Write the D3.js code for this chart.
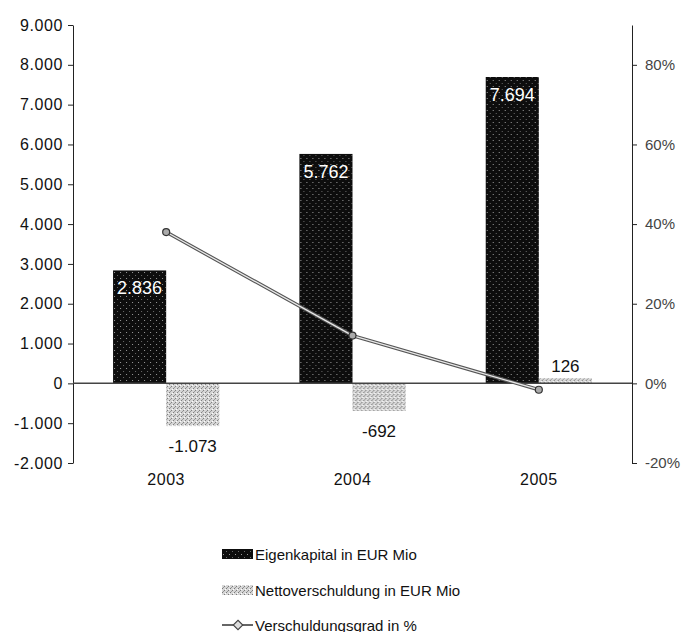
<!DOCTYPE html>
<html>
<head>
<meta charset="utf-8">
<script src="https://cdn.jsdelivr.net/npm/d3@7"></script>
<style>
  html, body { margin: 0; padding: 0; background: #fff; }
  svg { display: block; font-family: "Liberation Sans", Arial, sans-serif; }
</style>
</head>
<body>
<svg id="chart" width="683" height="632"></svg>
<script>
// Kennzahlen 2003–2005
const years = ["2003", "2004", "2005"];
const eigenkapital = [2836, 5762, 7694];          // EUR Mio
const nettoverschuldung = [-1073, -692, 126];     // EUR Mio
const verschuldungsgrad = [38, 12, -1.6];         // in %
const leftTicks = [-2000, -1000, 0, 1000, 2000, 3000, 4000, 5000, 6000, 7000, 8000, 9000];
const rightTicks = [-20, 0, 20, 40, 60, 80];
const legendLabels = ["Eigenkapital in EUR Mio", "Nettoverschuldung in EUR Mio", "Verschuldungsgrad in %"];

const de = d3.formatLocale({ decimal: ",", thousands: ".", grouping: [3], currency: ["", " €"], minus: "-" });
const fmt = de.format(",d");

const svg = d3.select("#chart");
const plotLeft = 73, plotRight = 632, plotTop = 25, plotBottom = 463;

// textures for the two bar series
const defs = svg.append("defs");
const pDark = defs.append("pattern").attr("id", "texDark")
  .attr("width", 6).attr("height", 6).attr("patternUnits", "userSpaceOnUse");
pDark.append("rect").attr("width", 6).attr("height", 6).attr("fill", "#0d0d0d");
pDark.append("rect").attr("x", 1).attr("y", 2).attr("width", 1).attr("height", 1).attr("fill", "#9a9a9a");
pDark.append("rect").attr("x", 4).attr("y", 5).attr("width", 1).attr("height", 1).attr("fill", "#6a6a6a");

const pLight = defs.append("pattern").attr("id", "texLight")
  .attr("width", 4).attr("height", 4).attr("patternUnits", "userSpaceOnUse");
pLight.append("rect").attr("width", 4).attr("height", 4).attr("fill", "#d6d6d6");
pLight.append("rect").attr("x", 0).attr("y", 0).attr("width", 1).attr("height", 1).attr("fill", "#7a7a7a");
pLight.append("rect").attr("x", 2).attr("y", 2).attr("width", 1).attr("height", 1).attr("fill", "#7a7a7a");
pLight.append("rect").attr("x", 3).attr("y", 1).attr("width", 1).attr("height", 1).attr("fill", "#ffffff");
pLight.append("rect").attr("x", 1).attr("y", 3).attr("width", 1).attr("height", 1).attr("fill", "#999");

// scales
const x0 = d3.scaleBand().domain(years).range([plotLeft, plotRight]).paddingInner(0.43).paddingOuter(0.215);
const x1 = d3.scaleBand().domain(["ek", "nv"]).range([0, x0.bandwidth()]);
const y = d3.scaleLinear().domain([-2000, 9000]).range([plotBottom, plotTop]);
const yR = d3.scaleLinear().domain([-20, 90]).range([plotBottom, plotTop]);

// left axis
const gL = svg.append("g").attr("transform", `translate(${plotLeft},0)`)
  .call(d3.axisLeft(y).tickValues(leftTicks).tickFormat(fmt).tickSize(5).tickSizeOuter(0).tickPadding(5));
gL.selectAll("path, line").attr("stroke", "#222");
gL.selectAll("text").attr("font-size", 16).attr("fill", "#111").attr("letter-spacing", 0.6)
  .attr("font-family", "Liberation Sans, Arial, sans-serif");

// right axis
const gR = svg.append("g").attr("transform", `translate(${plotRight},0)`)
  .call(d3.axisRight(yR).tickValues(rightTicks).tickFormat(d => d + "%").tickSize(5).tickSizeOuter(0).tickPadding(8));
gR.selectAll("path, line").attr("stroke", "#222");
gR.selectAll("text").attr("font-size", 15).attr("fill", "#444")
  .attr("font-family", "Liberation Sans, Arial, sans-serif");

// bars
const groups = svg.append("g").selectAll("g").data(years).join("g")
  .attr("transform", d => `translate(${x0(d)},0)`);

groups.append("rect")
  .attr("x", x1("ek")).attr("width", x1.bandwidth())
  .attr("y", (d, i) => y(Math.max(0, eigenkapital[i])))
  .attr("height", (d, i) => Math.abs(y(eigenkapital[i]) - y(0)))
  .attr("fill", "url(#texDark)");

groups.append("rect")
  .attr("x", x1("nv")).attr("width", x1.bandwidth())
  .attr("y", (d, i) => y(Math.max(0, nettoverschuldung[i])))
  .attr("height", (d, i) => Math.abs(y(nettoverschuldung[i]) - y(0)))
  .attr("fill", "url(#texLight)");

// zero line
svg.append("line").attr("x1", plotLeft).attr("x2", plotRight).attr("y1", y(0)).attr("y2", y(0))
  .attr("stroke", "#444").attr("stroke-width", 1.5);

// value labels
groups.append("text")
  .attr("x", x1("ek") + x1.bandwidth() / 2)
  .attr("y", (d, i) => y(eigenkapital[i]) + 24)
  .attr("text-anchor", "middle").attr("font-size", 18).attr("fill", "#fff")
  .text((d, i) => fmt(eigenkapital[i]));

groups.append("text")
  .attr("x", x1("nv") + x1.bandwidth() / 2)
  .attr("y", (d, i) => nettoverschuldung[i] < 0 ? y(nettoverschuldung[i]) + 26 : y(nettoverschuldung[i]) - 6)
  .attr("text-anchor", "middle").attr("font-size", 17).attr("fill", "#111")
  .text((d, i) => fmt(nettoverschuldung[i]));

// category labels
svg.append("g").selectAll("text").data(years).join("text")
  .attr("x", d => x0(d) + x0.bandwidth() / 2)
  .attr("y", 485)
  .attr("text-anchor", "middle").attr("font-size", 16).attr("letter-spacing", 0.5).attr("fill", "#111")
  .text(d => d);

// Verschuldungsgrad line
const pts = years.map((d, i) => [x0(d) + x0.bandwidth() / 2, yR(verschuldungsgrad[i])]);
const line = d3.line();
svg.append("path").attr("d", line(pts)).attr("fill", "none").attr("stroke", "#555").attr("stroke-width", 3.5);
svg.append("path").attr("d", line(pts)).attr("fill", "none").attr("stroke", "#e8e8e8").attr("stroke-width", 1.3);
svg.append("g").selectAll("circle").data(pts).join("circle")
  .attr("cx", d => d[0]).attr("cy", d => d[1]).attr("r", 3.5)
  .attr("fill", "#aaa").attr("stroke", "#333").attr("stroke-width", 1.2);

// legend
const legend = svg.append("g").attr("transform", "translate(222,0)");
const rowY = [554, 590, 625];
legend.append("rect").attr("x", 0).attr("y", rowY[0] - 5).attr("width", 31).attr("height", 10).attr("fill", "url(#texDark)");
legend.append("rect").attr("x", 0).attr("y", rowY[1] - 5).attr("width", 31).attr("height", 10).attr("fill", "url(#texLight)");
legend.append("line").attr("x1", 0).attr("x2", 31).attr("y1", rowY[2]).attr("y2", rowY[2])
  .attr("stroke", "#666").attr("stroke-width", 2);
legend.append("path")
  .attr("d", d3.symbol(d3.symbolDiamond, 40)())
  .attr("transform", `translate(16,${rowY[2]}) scale(1.4,0.8)`)
  .attr("fill", "#ddd").attr("stroke", "#444").attr("stroke-width", 1);
legend.selectAll("text.lbl").data(legendLabels).join("text").attr("class", "lbl")
  .attr("x", 33).attr("y", (d, i) => rowY[i] + 5.5)
  .attr("font-size", 15).attr("fill", "#111")
  .text(d => d);
</script>
</body>
</html>
